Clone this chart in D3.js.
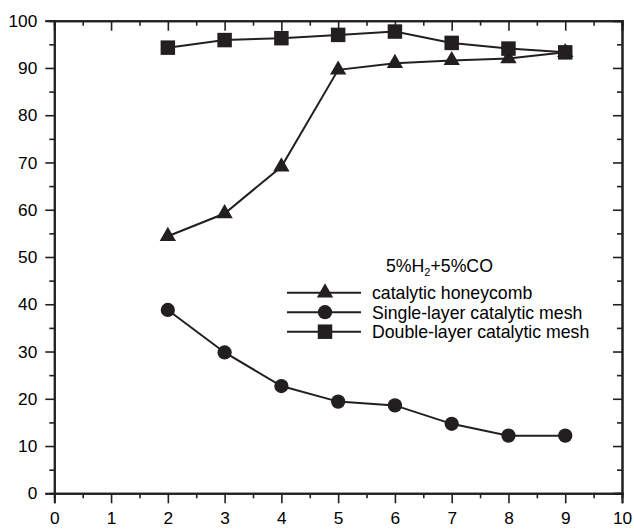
<!DOCTYPE html>
<html>
<head>
<meta charset="utf-8">
<script src="https://cdn.jsdelivr.net/npm/d3@7"></script>
<style>
  html, body { margin: 0; padding: 0; background: #fff; }
  svg { display: block; font-family: "Liberation Sans", Arial, Helvetica, sans-serif; }
</style>
</head>
<body>
<svg id="chart" width="634" height="529"></svg>
<script>
// Conversion (%) versus x for three catalytic structures, 5%H2+5%CO
const xValues = [2, 3, 4, 5, 6, 7, 8, 9];
const honeycomb = [54.4, 59.2, 69.1, 89.6, 91.0, 91.6, 92.0, 93.3];
const singleMesh = [38.8, 29.8, 22.7, 19.4, 18.6, 14.7, 12.2, 12.2];
const doubleMesh = [94.3, 95.9, 96.3, 97.0, 97.7, 95.3, 94.1, 93.3];
const seriesNames = ["catalytic honeycomb", "Single-layer catalytic mesh", "Double-layer catalytic mesh"];
const xTicks = [0, 1, 2, 3, 4, 5, 6, 7, 8, 9, 10];
const yTicks = [0, 10, 20, 30, 40, 50, 60, 70, 80, 90, 100];

const ink = "#231f20";
const svg = d3.select("#chart");

const x = d3.scaleLinear().domain([0, 10]).range([54.3, 622]);
const y = d3.scaleLinear().domain([0, 100]).range([493.3, 20.7]);

const xMinor = d3.range(0.5, 10, 1);
const yMinor = d3.range(5, 100, 10);

function styleAxis(g) {
  g.select(".domain").attr("stroke", ink).attr("stroke-width", 2);
  g.selectAll(".tick line").attr("stroke", ink).attr("stroke-width", 1.6);
  g.selectAll(".tick text").attr("fill", "#000").attr("font-size", 17.3)
    .attr("font-family", "'Liberation Sans', Arial, sans-serif");
}

// minor ticks
svg.append("g").attr("transform", `translate(0,${y(0)})`)
  .call(d3.axisBottom(x).tickValues(xMinor).tickSize(5).tickFormat(""))
  .call(styleAxis);
svg.append("g").attr("transform", `translate(0,${y(100)})`)
  .call(d3.axisTop(x).tickValues(xMinor).tickSize(-5).tickFormat(""))
  .call(styleAxis);
svg.append("g").attr("transform", `translate(${x(0)},0)`)
  .call(d3.axisLeft(y).tickValues(yMinor).tickSize(5).tickFormat(""))
  .call(styleAxis);
svg.append("g").attr("transform", `translate(${x(10)},0)`)
  .call(d3.axisRight(y).tickValues(yMinor).tickSize(-5).tickFormat(""))
  .call(styleAxis);

// major ticks and labels
svg.append("g").attr("transform", `translate(0,${y(0)})`)
  .call(d3.axisBottom(x).tickValues(xTicks).tickSize(10).tickPadding(8).tickFormat(d3.format("d")))
  .call(styleAxis);
svg.append("g").attr("transform", `translate(0,${y(100)})`)
  .call(d3.axisTop(x).tickValues(xTicks).tickSize(-10).tickFormat(""))
  .call(styleAxis);
svg.append("g").attr("transform", `translate(${x(0)},0)`)
  .call(d3.axisLeft(y).tickValues(yTicks).tickSize(9).tickPadding(8).tickFormat(d3.format("d")))
  .call(styleAxis);
svg.append("g").attr("transform", `translate(${x(10)},0)`)
  .call(d3.axisRight(y).tickValues(yTicks).tickSize(-9).tickFormat(""))
  .call(styleAxis);

// series
const series = [
  { name: seriesNames[0], values: honeycomb, symbol: d3.symbolTriangle, size: 115 },
  { name: seriesNames[1], values: singleMesh, symbol: d3.symbolCircle, size: 160 },
  { name: seriesNames[2], values: doubleMesh, symbol: d3.symbolSquare, size: 210 }
];

const line = d3.line().x(d => x(d[0])).y(d => y(d[1]));

series.forEach(s => {
  const pts = xValues.map((xv, i) => [xv, s.values[i]]);
  svg.append("path").datum(pts)
    .attr("d", line).attr("fill", "none")
    .attr("stroke", ink).attr("stroke-width", 2);
  svg.append("g").selectAll("path").data(pts).join("path")
    .attr("transform", d => `translate(${x(d[0])},${y(d[1])})`)
    .attr("d", d3.symbol().type(s.symbol).size(s.size))
    .attr("fill", ink);
});

// legend
const legend = svg.append("g").attr("font-size", 17.7).attr("fill", "#000");
const title = legend.append("text").attr("x", 386).attr("y", 272);
title.append("tspan").text("5%H");
title.append("tspan").attr("font-size", 11).attr("dy", 4).text("2");
title.append("tspan").attr("dy", -4).text("+5%CO");

series.forEach((s, i) => {
  const cy = 292.7 + i * 19.5;
  legend.append("line").attr("x1", 287).attr("x2", 361).attr("y1", cy).attr("y2", cy)
    .attr("stroke", ink).attr("stroke-width", 2);
  legend.append("path").attr("transform", `translate(325,${cy})`)
    .attr("d", d3.symbol().type(s.symbol).size(s.size)).attr("fill", ink);
  legend.append("text").attr("x", 372).attr("y", cy).attr("dy", "0.36em").text(s.name);
});
</script>
</body>
</html>
